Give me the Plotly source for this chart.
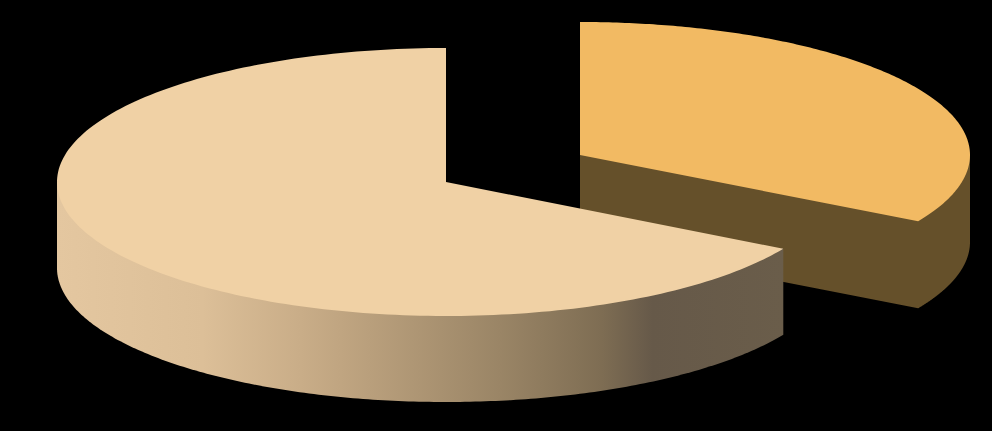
import numpy as np
import plotly.graph_objects as go

labels = ["Small slice", "Large slice"]
shares = [33.3, 66.7]
top_colors = ["#f2ba63", "#f0d1a5"]
side_color = "#65502a"
side_scale = [[0, "#e4c7a0"], [0.2, "#dcbf98"], [0.335, "#c9ad88"], [0.39, "#c0a581"],
              [0.61, "#9a8566"], [0.75, "#7e6d53"], [0.82, "#665949"], [1, "#6a5d4a"]]

# page pixels, the pie is drawn flat with an elliptical tilt
cx = [580, 446]
cy = [155, 182]
rx = [390, 389]
ry = [133, 134]
depth = [87, 86]


def arc(i, a0, a1, n=200):
    a = np.radians(np.linspace(a0, a1, n))
    return cx[i] + rx[i] * np.sin(a), cy[i] - ry[i] * np.cos(a)


cut = shares[0] / sum(shares) * 360

fig = go.Figure()

# small slice: cut face and outer wall as one shape, the top sits over its upper edge
x, y = arc(0, 90, cut)
fig.add_trace(go.Scatter(x=[cx[0], x[0]] + list(x) + [cx[0]],
                         y=[cy[0], y[0]] + list(y + depth[0]) + [cy[0] + depth[0]],
                         fill="toself", fillcolor=side_color, mode="none", hoverinfo="skip"))
x, y = arc(0, 0, cut)
fig.add_trace(go.Scatter(x=[cx[0]] + list(x), y=[cy[0]] + list(y), fill="toself",
                         fillcolor=top_colors[0], mode="none", name=labels[0]))

# large slice: gradient wall, closed with a chord under the top
x, y = arc(1, cut, 270)
fig.add_trace(go.Scatter(x=[x[0]] + list(x) + [x[-1]],
                         y=[y[0]] + list(y + depth[1]) + [y[-1]],
                         fill="toself", mode="none", hoverinfo="skip",
                         fillgradient=dict(type="horizontal", colorscale=side_scale)))
x, y = arc(1, cut, 360)
fig.add_trace(go.Scatter(x=[cx[1]] + list(x), y=[cy[1]] + list(y), fill="toself",
                         fillcolor=top_colors[1], mode="none", name=labels[1]))

fig.update_xaxes(range=[0, 992], visible=False)
fig.update_yaxes(range=[431, 0], visible=False)
fig.update_layout(width=992, height=431, margin=dict(l=0, r=0, t=0, b=0), showlegend=False,
                  paper_bgcolor="#000000", plot_bgcolor="#000000")
fig.write_html("out.html", config={"displayModeBar": False},
               post_script="document.body.style.margin='0';document.body.style.background='#000';")
